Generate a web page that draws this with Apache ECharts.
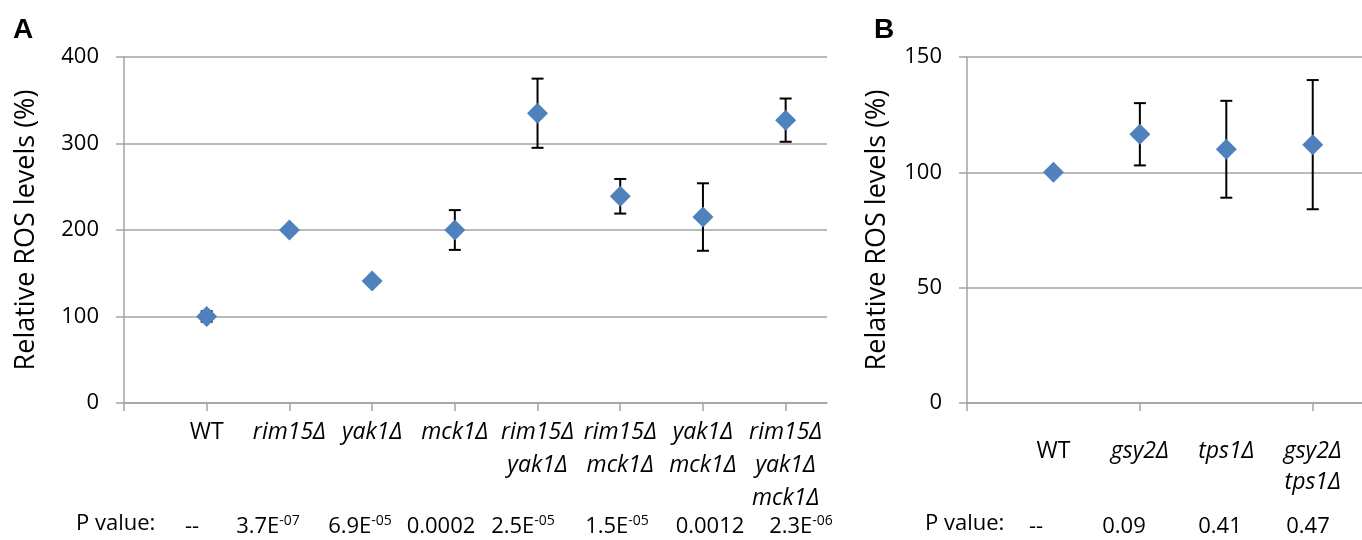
<!DOCTYPE html>
<html>
<head>
<meta charset="utf-8" />
<title>ROS levels</title>
<script src="https://cdn.jsdelivr.net/npm/echarts@6/dist/echarts.min.js"></script>
<style>
html, body { margin: 0; padding: 0; background: #fff; }
#chart { width: 1362px; height: 540px; }
</style>
</head>
<body>
<div id="chart"></div>
<script>
// panel A
var catA = ['WT', 'rim15Δ', 'yak1Δ', 'mck1Δ', 'rim15Δ\nyak1Δ', 'rim15Δ\nmck1Δ', 'yak1Δ\nmck1Δ', 'rim15Δ\nyak1Δ\nmck1Δ'];
var rosA = [100, 200, 141, 200, 335, 239, 215, 327];
var errA = [6, 0, 0, 23, 40, 20, 39, 25];
var pA = ['--', '3.7E|-07', '6.9E|-05', '0.0002', '2.5E|-05', '1.5E|-05', '0.0012', '2.3E|-06'];
var ticksA = [0, 100, 200, 300, 400];

// panel B
var catB = ['WT', 'gsy2Δ', 'tps1Δ', 'gsy2Δ\ntps1Δ'];
var rosB = [100, 116.5, 110, 112];
var errB = [0, 13.5, 21, 28];
var pB = ['--', '0.09', '0.41', '0.47'];
var ticksB = [0, 50, 100, 150];

var FONT = '"Open Sans", sans-serif';
var GRAY = '#a3a3a3';
var BLUE = '#4f81bd';

function catLabel(cats) {
	return function (v) {
		var s = cats[Math.round(v) - 1];
		if (!s) return '';
		if (s === 'WT') return '{n|WT}';
		return s.split('\n').map(function (l) { return '{i|' + l + '}'; }).join('\n');
	};
}

function pText(p) {
	var parts = p.split('|');
	if (parts.length === 1) return '{m|' + p + '}';
	return '{m|' + parts[0] + '}{s|' + parts[1] + '}';
}

function errRender(params, api) {
	var x = api.value(0), y = api.value(1), e = api.value(2);
	if (!e) return;
	var top = api.coord([x, y + e]);
	var bot = api.coord([x, y - e]);
	var w = 6;
	var st = { stroke: '#000', lineWidth: 2 };
	return {
		type: 'group',
		children: [
			{ type: 'line', shape: { x1: top[0], y1: top[1], x2: bot[0], y2: bot[1] }, style: st },
			{ type: 'line', shape: { x1: top[0] - w, y1: top[1], x2: top[0] + w, y2: top[1] }, style: st },
			{ type: 'line', shape: { x1: bot[0] - w, y1: bot[1], x2: bot[0] + w, y2: bot[1] }, style: st }
		]
	};
}

function xAxisFor(grid, cats, max, tickVals, margin, lh) {
	var labelVals = cats.map(function (c, i) { return i + 1; });
	return {
		gridIndex: grid,
		type: 'value',
		min: 0,
		max: max,
		axisLine: { lineStyle: { color: GRAY, width: 1.5 } },
		axisTick: { show: true, customValues: tickVals, length: 8, lineStyle: { color: GRAY, width: 1.5 } },
		splitLine: { show: false },
		axisLabel: {
			customValues: labelVals,
			formatter: catLabel(cats),
			margin: margin,
			verticalAlign: 'top',
			rich: {
				n: { fontFamily: FONT, fontSize: 23, color: '#000', lineHeight: lh },
				i: { fontFamily: FONT, fontSize: 23, fontStyle: 'italic', color: '#000', lineHeight: lh }
			}
		}
	};
}

function yAxisFor(grid, ticks, gap) {
	return {
		gridIndex: grid,
		type: 'value',
		min: ticks[0],
		max: ticks[ticks.length - 1],
		interval: ticks[1] - ticks[0],
		name: 'Relative ROS levels (%)',
		nameLocation: 'middle',
		nameGap: gap,
		nameTextStyle: { fontFamily: FONT, fontSize: 27, color: '#000' },
		axisLine: { show: true, lineStyle: { color: GRAY, width: 1.5 } },
		axisTick: { show: true, length: 8, lineStyle: { color: GRAY, width: 1.5 } },
		splitLine: { show: true, lineStyle: { color: GRAY, width: 1.5 } },
		axisLabel: { fontFamily: FONT, fontSize: 22, color: '#000', margin: 25 }
	};
}

function pRow(startX, centers, vals) {
	var els = [{
		type: 'text', left: startX, top: 513,
		style: { text: 'P value:', fontFamily: FONT, fontSize: 22, fill: '#000' }
	}];
	vals.forEach(function (p, i) {
		els.push({
			type: 'text', x: centers[i], y: 527,
			style: {
				text: pText(p), align: 'center', verticalAlign: 'middle',
				rich: {
					m: { fontFamily: FONT, fontSize: 22, color: '#000', lineHeight: 26 },
					s: { fontFamily: FONT, fontSize: 14, color: '#000', lineHeight: 26, verticalAlign: 'top' }
				}
			}
		});
	});
	return els;
}

var myChart = echarts.init(document.getElementById('chart'));

option = {
	backgroundColor: '#fff',
	animation: false,
	grid: [
		{ left: 124, top: 57, width: 703, height: 346 },
		{ left: 967, top: 57, width: 395, height: 346 }
	],
	xAxis: [
		xAxisFor(0, catA, 8.5, [0, 1, 2, 3, 4, 5, 6, 7, 8], 13, 33),
		xAxisFor(1, catB, 4.57, [0, 2, 4], 33, 31)
	],
	yAxis: [
		yAxisFor(0, ticksA, 84),
		yAxisFor(1, ticksB, 76)
	],
	series: [
		{
			type: 'custom', xAxisIndex: 0, yAxisIndex: 0, z: 2,
			renderItem: errRender,
			data: rosA.map(function (v, i) { return [i + 1, v, errA[i]]; })
		},
		{
			type: 'scatter', xAxisIndex: 0, yAxisIndex: 0, z: 3,
			symbol: 'diamond', symbolSize: 21,
			itemStyle: { color: BLUE, opacity: 1 },
			data: rosA.map(function (v, i) { return [i + 1, v]; })
		},
		{
			type: 'custom', xAxisIndex: 1, yAxisIndex: 1, z: 2,
			renderItem: errRender,
			data: rosB.map(function (v, i) { return [i + 1, v, errB[i]]; })
		},
		{
			type: 'scatter', xAxisIndex: 1, yAxisIndex: 1, z: 3,
			symbol: 'diamond', symbolSize: 21,
			itemStyle: { color: BLUE, opacity: 1 },
			data: rosB.map(function (v, i) { return [i + 1, v]; })
		}
	],
	graphic: [
		{ type: 'text', left: 13, top: 16, style: { text: 'A', fontFamily: 'Liberation Sans, Arial, sans-serif', fontWeight: 'bold', fontSize: 28, fill: '#000' } },
		{ type: 'text', left: 874, top: 16, style: { text: 'B', fontFamily: 'Liberation Sans, Arial, sans-serif', fontWeight: 'bold', fontSize: 28, fill: '#000' } }
	]
		.concat(pRow(76, [192, 268, 360, 441, 523, 617, 710, 801], pA))
		.concat(pRow(925, [1036, 1124, 1220, 1308], pB))
};
myChart.setOption(option);
</script>
</body>
</html>
